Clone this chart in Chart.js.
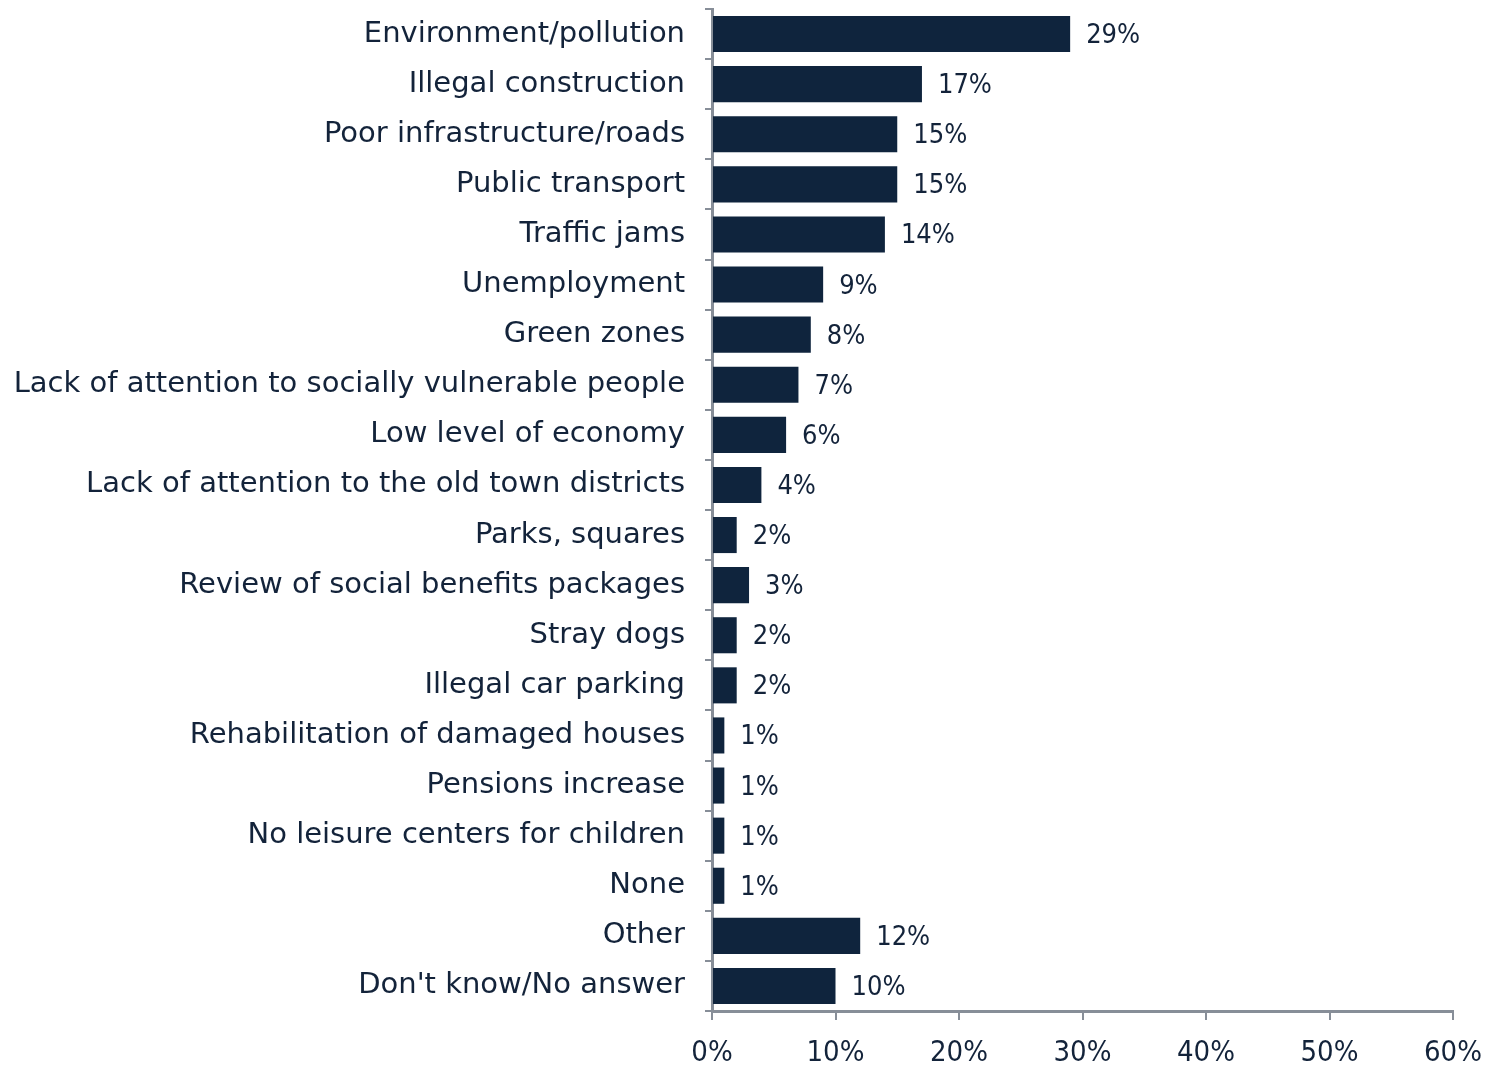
<!DOCTYPE html>
<html>
<head>
<meta charset="utf-8">
<script src="https://cdn.jsdelivr.net/npm/chart.js@4"></script>
<style>
  html, body { margin: 0; padding: 0; background: #ffffff; }
  #wrap { width: 1486px; height: 1065px; }
</style>
</head>
<body>
<div id="wrap"><canvas id="issuesChart" width="1486" height="1065"></canvas></div>
<script>
// categories, top to bottom
const categories = [
  'Environment/pollution',
  'Illegal construction',
  'Poor infrastructure/roads',
  'Public transport',
  'Traffic jams',
  'Unemployment',
  'Green zones',
  'Lack of attention to socially vulnerable people',
  'Low level of economy',
  'Lack of attention to the old town districts',
  'Parks, squares',
  'Review of social benefits packages',
  'Stray dogs',
  'Illegal car parking',
  'Rehabilitation of damaged houses',
  'Pensions increase',
  'No leisure centers for children',
  'None',
  'Other',
  "Don't know/No answer"
];
const shares = [29, 17, 15, 15, 14, 9, 8, 7, 6, 4, 2, 3, 2, 2, 1, 1, 1, 1, 12, 10];
const xTicks = [0, 10, 20, 30, 40, 50, 60];

const FONT = '"DejaVu Sans Condensed", "DejaVu Sans", sans-serif';
const LABEL_FONT = '"DejaVu Sans", sans-serif';
const TEXT = '#13233a';
const BAR = '#0f243d';
const AXIS = '#878e98';

// value labels to the right of each bar
const valueLabels = {
  id: 'valueLabels',
  afterDatasetsDraw(chart) {
    const ctx = chart.ctx;
    const meta = chart.getDatasetMeta(0);
    ctx.save();
    ctx.font = '27px ' + FONT;
    ctx.fillStyle = TEXT;
    ctx.textAlign = 'left';
    ctx.textBaseline = 'middle';
    meta.data.forEach((bar, i) => {
      ctx.fillText(shares[i] + '%', bar.x + 16, bar.y + 2);
    });
    ctx.restore();
  }
};

new Chart(document.getElementById('issuesChart'), {
  type: 'bar',
  data: {
    labels: categories,
    datasets: [{
      data: shares,
      backgroundColor: BAR,
      borderWidth: 0,
      barPercentage: 0.72,
      categoryPercentage: 1
    }]
  },
  options: {
    indexAxis: 'y',
    responsive: false,
    animation: false,
    layout: { padding: { top: 9, right: 0, left: 0, bottom: 0 } },
    plugins: { legend: { display: false }, tooltip: { enabled: false } },
    scales: {
      x: {
        min: 0,
        max: 60,
        afterBuildTicks(scale) { scale.ticks = xTicks.map(v => ({ value: v })); },
        afterFit(scale) {
          scale.height = 54;
          scale.paddingRight = 33;
          scale.paddingLeft = 0;
        },
        border: { color: AXIS, width: 3 },
        grid: { drawOnChartArea: false, color: AXIS, lineWidth: 2, tickLength: 9 },
        ticks: {
          callback: v => v + '%',
          color: TEXT,
          font: { family: FONT, size: 29 },
          padding: 16,
          maxRotation: 0
        }
      },
      y: {
        afterFit(scale) {
          scale.width = 712;
          scale.paddingTop = 0;
          scale.paddingBottom = 0;
        },
        border: { color: AXIS, width: 3 },
        grid: { drawOnChartArea: false, color: AXIS, lineWidth: 2, tickLength: 7, offset: true },
        ticks: {
          color: TEXT,
          font: { family: LABEL_FONT, size: 29 },
          padding: 20,
          autoSkip: false
        }
      }
    }
  },
  plugins: [valueLabels]
});
</script>
</body>
</html>
